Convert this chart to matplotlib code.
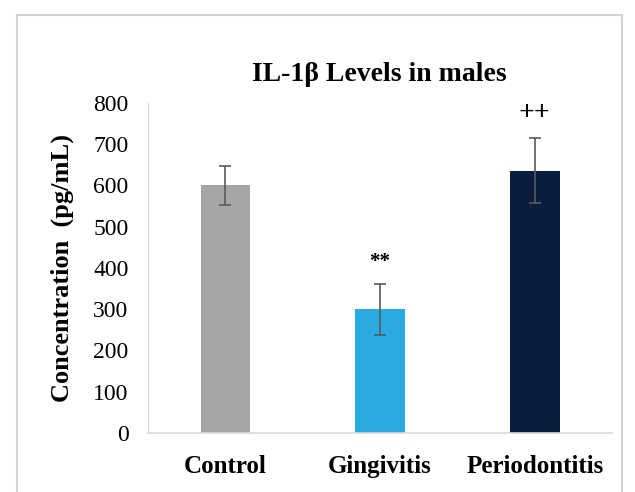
import numpy as np
import matplotlib
matplotlib.use("Agg")
import matplotlib.pyplot as plt
from matplotlib.patches import Rectangle

# IL-1b levels in males
groups = ["Control", "Gingivitis", "Periodontitis"]
means = [600, 300, 636]
errs = [48, 62, 79]
marks = ["", "**", "++"]
mark_sizes = [15, 15, 20]
colors = ["#a5a5a5", "#29abe2", "#0b1d3c"]

plt.rcParams['font.family'] = ['Liberation Serif', 'DejaVu Serif']

fig = plt.figure(figsize=(6.35, 4.92), dpi=100)
ax = fig.add_axes([0.233, 0.120, 0.731, 0.671])

x = np.arange(len(groups))
ax.bar(x, means, width=0.32, color=colors, zorder=2)
ax.errorbar(x, means, yerr=errs, fmt="none", ecolor="#5a5a5a", elinewidth=1.2,
            capsize=4, capthick=1.2, zorder=3)

for xi, m, e, s, fs in zip(x, means, errs, marks, mark_sizes):
    if s:
        ax.text(xi, m + e + 28, s, ha="center", va="bottom", fontsize=fs,
                fontweight="bold")

ax.set_ylim(0, 800)
ax.set_xlim(-0.5, 2.5)
ax.set_yticks(np.arange(0, 801, 100))
ax.set_xticks(x)
ax.set_xticklabels(groups, fontsize=18, fontweight="bold")
ax.tick_params(axis="y", length=0, labelsize=17, pad=14)
ax.tick_params(axis="x", length=0, pad=16)
ax.set_ylabel("Concentration  (pg/mL)", fontsize=19, fontweight="bold", labelpad=14)

for side in ["top", "right"]:
    ax.spines[side].set_visible(False)
ax.spines["left"].set_color("#d9d9d9")
ax.spines["bottom"].set_color("#d9d9d9")
ax.spines["bottom"].set_linewidth(1.2)

fig.text(0.598, 0.848, "IL-1β Levels in males", ha="center", va="center",
         fontsize=20, fontweight="bold")

fig.patches.append(Rectangle((17 / 635, -0.05), 605 / 635, 1 - 15 / 492 + 0.05,
                             transform=fig.transFigure, fill=False,
                             edgecolor="#d3d3d3", linewidth=1.5))

fig.savefig("out.png", dpi=100)
